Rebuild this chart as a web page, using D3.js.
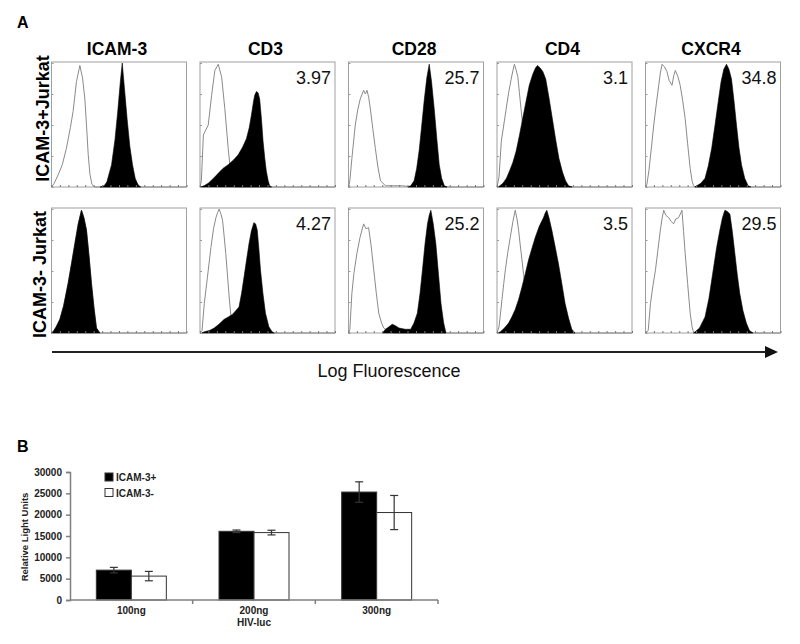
<!DOCTYPE html>
<html><head><meta charset="utf-8">
<script src="https://cdn.jsdelivr.net/npm/d3@7"></script>
<style>body{margin:0;background:#fff} svg{display:block;font-family:Arial,"Liberation Sans",sans-serif}</style>
</head><body><svg id="c" width="800" height="644"></svg>
<script>
// ---------- Panel A data ----------
const markers = ["ICAM-3", "CD3", "CD28", "CD4", "CXCR4"];
const rowLabels = ["ICAM-3+Jurkat", "ICAM-3- Jurkat"];
const mfiPos = ["", "3.97", "25.7", "3.1", "34.8"];
const mfiNeg = ["", "4.27", "25.2", "3.5", "29.5"];
const fluorTicks = [0, 62, 125, 187, 250, 312, 375, 437, 500, 562, 625, 687, 750, 812, 875, 937, 1000];
const countTicks = [0, 25, 50, 75, 100];

// histograms: [log-fluorescence channel (0-1000), % of max count]
// ICAM-3+ Jurkat row
const posIso_ICAM3 = [[0,0],[20,3],[50,10],[80,18],[110,31],[140,48],[160,61],[185,85],[210,98],[230,88],[247,71],[262,45],[272,26],[285,10],[300,2],[320,0],[1000,0]];
const posStain_ICAM3 = [[360,0],[390,1],[410,4],[445,18],[470,38],[490,60],[510,85],[524,100],[540,80],[560,55],[580,33],[600,18],[620,7],[640,2],[660,0]];
const posIso_CD3 = [[0,0],[10,5],[25,42],[61,50],[86,74],[110,94],[125,97],[135,99],[160,89],[184,63],[209,31],[221,18],[246,2],[260,0],[1000,0]];
const posStain_CD3 = [[5,0],[30,1],[61,3],[100,7],[135,11],[170,15],[209,18],[250,22],[283,26],[315,32],[344,39],[365,48],[381,58],[395,68],[405,74],[418,77],[430,76],[442,71],[455,55],[467,37],[480,23],[491,13],[505,5],[516,1],[530,0]];
const posIso_CD28 = [[0,0],[10,5],[25,23],[50,50],[70,63],[87,71],[112,78],[125,75],[137,78],[150,72],[162,63],[180,47],[199,31],[218,16],[237,5],[274,1],[330,1],[400,1],[460,0],[1000,0]];
const posStain_CD28 = [[440,0],[461,1],[486,5],[505,15],[523,29],[540,47],[560,69],[580,88],[598,99],[615,85],[635,63],[655,38],[672,18],[690,7],[710,1],[730,0]];
const posIso_CD4 = [[0,0],[15,8],[32,37],[50,50],[68,63],[86,76],[105,87],[118,94],[129,99],[140,95],[154,89],[166,76],[178,63],[190,50],[203,37],[215,26],[227,15],[250,5],[280,0],[1000,0]];
const posStain_CD4 = [[10,0],[44,3],[70,7],[93,13],[118,20],[142,29],[165,41],[190,55],[215,69],[239,82],[265,91],[285,96],[300,98],[320,96],[340,93],[361,87],[385,72],[410,55],[435,38],[459,23],[485,12],[508,5],[530,1],[556,0]];
const posIso_CXCR4 = [[0,0],[10,2],[25,13],[45,33],[61,50],[80,67],[98,82],[110,92],[123,99],[140,97],[159,93],[175,86],[196,82],[210,90],[221,94],[240,89],[257,82],[275,70],[294,55],[312,35],[331,15],[345,5],[355,1],[370,0],[1000,0]];
const posStain_CXCR4 = [[365,0],[380,1],[410,3],[441,7],[465,17],[490,31],[515,50],[539,69],[560,85],[580,95],[600,99],[618,95],[637,87],[655,70],[674,50],[692,32],[711,18],[735,7],[760,1],[780,0]];

// ICAM-3- Jurkat row
const negIso_ICAM3 = [[0,0],[12,1],[35,5],[62,11],[90,22],[123,40],[150,57],[173,72],[198,88],[222,99],[240,93],[259,83],[278,62],[296,40],[315,20],[333,4],[358,0],[1000,0]];
const negStain_ICAM3 = [[0,0],[12,1],[35,5],[62,11],[90,22],[123,40],[150,57],[173,72],[198,88],[222,99],[240,93],[259,83],[278,62],[296,40],[315,20],[333,4],[358,0]];
const negIso_CD3 = [[0,0],[15,2],[32,24],[55,45],[81,69],[100,84],[118,93],[130,97],[142,100],[155,96],[167,91],[179,78],[191,64],[204,46],[216,29],[228,15],[240,1],[255,0],[1000,0]];
const negStain_CD3 = [[15,0],[32,1],[70,2],[105,4],[140,7],[179,11],[210,13],[240,15],[265,18],[289,21],[308,32],[326,45],[345,59],[363,72],[380,82],[399,89],[412,88],[424,83],[436,68],[448,51],[466,32],[485,16],[510,5],[534,1],[550,0]];
const negIso_CD28 = [[0,0],[10,3],[25,32],[40,48],[62,64],[85,77],[112,88],[130,84],[149,85],[168,70],[187,51],[205,33],[224,16],[245,8],[261,4],[299,1],[340,0],[1000,0]];
const negStain_CD28 = [[250,0],[274,3],[300,5],[324,7],[345,6],[374,4],[420,3],[461,3],[485,8],[510,16],[530,32],[548,51],[567,72],[585,88],[598,95],[610,99],[628,88],[647,72],[666,48],[685,24],[705,8],[722,0]];
const negIso_CD4 = [[0,0],[15,5],[37,27],[50,40],[62,51],[80,65],[98,77],[118,90],[135,99],[148,92],[160,83],[172,71],[185,59],[197,47],[209,37],[230,22],[260,8],[290,0],[1000,0]];
const negStain_CD4 = [[10,0],[25,1],[55,4],[86,8],[110,13],[135,19],[160,27],[185,37],[210,48],[234,59],[258,68],[283,77],[313,86],[344,93],[358,97],[369,99],[385,93],[406,83],[430,70],[455,56],[480,40],[504,24],[530,12],[554,3],[578,0]];
const negIso_CXCR4 = [[0,0],[20,2],[37,24],[55,38],[74,51],[92,67],[110,83],[122,92],[135,99],[150,95],[172,93],[190,90],[208,88],[225,92],[245,93],[258,96],[270,99],[282,82],[294,64],[312,40],[331,16],[345,5],[355,1],[370,0],[1000,0]];
const negStain_CXCR4 = [[355,0],[368,1],[400,4],[441,13],[470,28],[502,51],[527,69],[551,83],[570,93],[588,99],[606,98],[625,96],[643,82],[662,64],[680,47],[698,32],[722,18],[747,8],[770,2],[796,0]];

const isoRows = [
  [posIso_ICAM3, posIso_CD3, posIso_CD28, posIso_CD4, posIso_CXCR4],
  [negIso_ICAM3, negIso_CD3, negIso_CD28, negIso_CD4, negIso_CXCR4]
];
const stainRows = [
  [posStain_ICAM3, posStain_CD3, posStain_CD28, posStain_CD4, posStain_CXCR4],
  [negStain_ICAM3, negStain_CD3, negStain_CD28, negStain_CD4, negStain_CXCR4]
];
const mfiRows = [mfiPos, mfiNeg];

// ---------- Panel B data ----------
const doses = ["100ng", "200ng", "300ng"];
const groups = ["ICAM-3+", "ICAM-3-"];
const rluPos = [7000, 16100, 25300];
const errPos = [650, 300, 2400];
const rluNeg = [5600, 15800, 20500];
const errNeg = [1100, 550, 4000];
const rluTicks = [0, 5000, 10000, 15000, 20000, 25000, 30000];

// ---------- drawing ----------
const svg = d3.select("#c");

svg.append("text").attr("x", 17).attr("y", 28).attr("font-size", 16).attr("font-weight", "bold").text("A");
svg.append("text").attr("x", 17).attr("y", 452).attr("font-size", 16).attr("font-weight", "bold").text("B");

const colX = d3.scaleBand().domain(markers).range([51.5, 51.5 + 148.5 * 5]).paddingInner(0);
const panelW = 135, panelH = 125;
const rowY = d3.scaleOrdinal().domain(rowLabels).range([62, 208]);

markers.forEach((m, j) => {
  svg.append("text").attr("x", colX(m) + panelW / 2 - 2).attr("y", 55)
    .attr("text-anchor", "middle").attr("font-size", 17.5).attr("font-weight", "bold").text(m);
});

rowLabels.forEach((r, i) => {
  const y0 = rowY(r);
  svg.append("text")
    .attr("transform", `translate(${i === 0 ? 49 : 46},${y0 + panelH / 2 + (i === 0 ? -6 : 4)}) rotate(-90)`)
    .attr("text-anchor", "middle").attr("font-size", 18).attr("font-weight", "bold").text(r);

  markers.forEach((m, j) => {
    const x0 = colX(m);
    const x = d3.scaleLinear().domain([0, 1000]).range([x0, x0 + panelW]);
    const y = d3.scaleLinear().domain([0, 100]).range([y0 + panelH, y0 + 1]);
    const g = svg.append("g");
    g.append("rect").attr("x", x0).attr("y", y0).attr("width", panelW).attr("height", panelH)
      .attr("fill", "#fff").attr("stroke", "#a0a0a0").attr("stroke-width", 1);

    const area = d3.area().x(d => x(d[0])).y0(y(0)).y1(d => y(d[1]));
    const line = d3.line().x(d => x(d[0])).y(d => y(d[1]));
    g.append("path").datum(isoRows[i][j]).attr("d", line).attr("fill", "none").attr("stroke", "#8a8a8a").attr("stroke-width", 1);
    g.append("path").datum(stainRows[i][j]).attr("d", area).attr("fill", "#000").attr("stroke", "#000").attr("stroke-width", 0.6);

    const ax = g.append("g").attr("transform", `translate(0,${y0 + panelH})`)
      .call(d3.axisBottom(x).tickValues(fluorTicks).tickSize(-2).tickFormat(""));
    ax.select(".domain").remove();
    ax.selectAll("line").attr("stroke", "#777");
    const ay = g.append("g").attr("transform", `translate(${x0},0)`)
      .call(d3.axisLeft(y).tickValues(countTicks).tickSize(-2).tickFormat(""));
    ay.select(".domain").remove();
    ay.selectAll("line").attr("stroke", "#999");

    if (mfiRows[i][j]) {
      g.append("text").attr("x", x0 + panelW - 4).attr("y", y0 + 22)
        .attr("text-anchor", "end").attr("font-size", 18).attr("fill", "#111").text(mfiRows[i][j]);
    }
  });
});

// arrow + axis title
svg.append("line").attr("x1", 52).attr("x2", 768).attr("y1", 352).attr("y2", 352)
  .attr("stroke", "#222").attr("stroke-width", 2);
svg.append("path").attr("d", "M765,346 L778,352 L765,358 Z").attr("fill", "#111");
svg.append("text").attr("x", 389).attr("y", 377).attr("text-anchor", "middle")
  .attr("font-size", 18).attr("fill", "#111").text("Log Fluorescence");

// ---------- Panel B: bar chart ----------
const bx = d3.scaleBand().domain(doses).range([70, 438]).paddingInner(0).paddingOuter(0);
const bsub = d3.scaleBand().domain(groups).range([bx.bandwidth() / 2 - 35, bx.bandwidth() / 2 + 35]);
const by = d3.scaleLinear().domain([0, 30000]).range([600, 472]);
const axisGray = "#7f7f7f";

const yAx = svg.append("g").attr("transform", "translate(70,0)")
  .call(d3.axisLeft(by).tickValues(rluTicks).tickSize(4).tickPadding(4).tickFormat(d3.format("d")));
yAx.select(".domain").attr("stroke", axisGray).attr("stroke-width", 1.5);
yAx.selectAll("line").attr("stroke", axisGray).attr("stroke-width", 1.5);
yAx.selectAll("text").attr("font-size", 10).attr("font-weight", "bold").attr("fill", "#222")
  .attr("font-family", "Arial, 'Liberation Sans', sans-serif");

const seriesVals = [rluPos, rluNeg];
const seriesErr = [errPos, errNeg];
const fills = ["#000", "#fff"];

groups.forEach((grp, s) => {
  doses.forEach((d, k) => {
    const bxl = bx(d) + bsub(grp);
    const v = seriesVals[s][k], e = seriesErr[s][k];
    svg.append("rect").attr("x", bxl).attr("y", by(v)).attr("width", bsub.bandwidth())
      .attr("height", by(0) - by(v)).attr("fill", fills[s]).attr("stroke", "#333").attr("stroke-width", 1);
    const cx = bxl + bsub.bandwidth() / 2;
    const eg = svg.append("g").attr("stroke", "#333").attr("stroke-width", 1.2);
    eg.append("line").attr("x1", cx).attr("x2", cx).attr("y1", by(v + e)).attr("y2", by(v - e));
    eg.append("line").attr("x1", cx - 4).attr("x2", cx + 4).attr("y1", by(v + e)).attr("y2", by(v + e));
    eg.append("line").attr("x1", cx - 4).attr("x2", cx + 4).attr("y1", by(v - e)).attr("y2", by(v - e));
  });
});

// x axis
svg.append("line").attr("x1", 70).attr("x2", 438).attr("y1", by(0)).attr("y2", by(0))
  .attr("stroke", axisGray).attr("stroke-width", 1.5);
doses.forEach(d => {
  const xe = bx(d) + bx.bandwidth();
  svg.append("line").attr("x1", xe).attr("x2", xe).attr("y1", by(0)).attr("y2", by(0) + 4)
    .attr("stroke", axisGray).attr("stroke-width", 1.5);
  svg.append("text").attr("x", bx(d) + bx.bandwidth() / 2).attr("y", 614).attr("text-anchor", "middle")
    .attr("font-size", 10).attr("font-weight", "bold").attr("fill", "#222").text(d);
});
svg.append("text").attr("x", bx(doses[1]) + bx.bandwidth() / 2).attr("y", 626).attr("text-anchor", "middle")
  .attr("font-size", 10).attr("font-weight", "bold").attr("fill", "#222").text("HIV-luc");
svg.append("text").attr("transform", "translate(28,537) rotate(-90)").attr("text-anchor", "middle")
  .attr("font-size", 9.5).attr("font-weight", "bold").attr("fill", "#222").text("Relative Light Units");

// legend
groups.forEach((grp, s) => {
  const ly = 473 + s * 15.5;
  svg.append("rect").attr("x", 105).attr("y", ly).attr("width", 8).attr("height", 8)
    .attr("fill", fills[s]).attr("stroke", "#333").attr("stroke-width", 1);
  svg.append("text").attr("x", 116).attr("y", ly + 8).attr("font-size", 10).attr("font-weight", "bold")
    .attr("fill", "#222").text(grp);
});
</script>
</body></html>
